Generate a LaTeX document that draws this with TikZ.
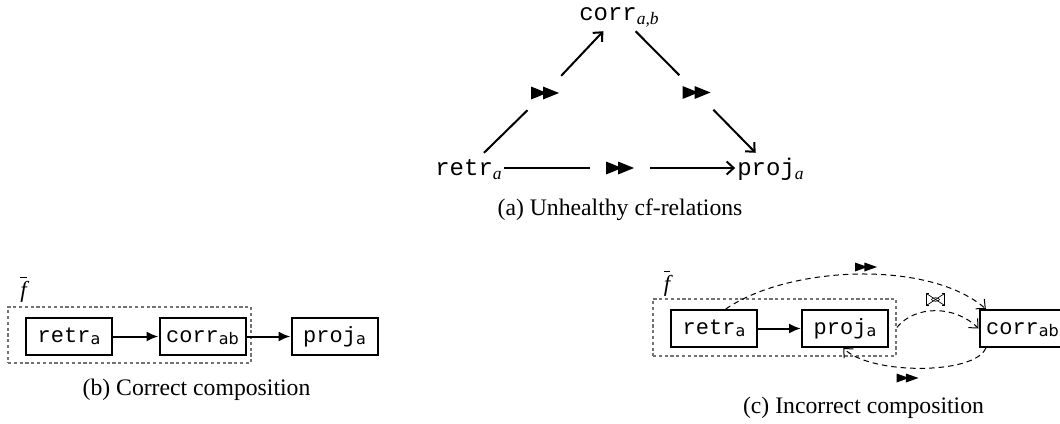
\documentclass[tikz,border=0pt]{standalone}
\usepackage{amsmath}
\usepackage{fontspec}
\setmainfont{Liberation Serif}
\setmonofont{Liberation Mono}
\newfontfamily\subsans{DejaVu Sans}
\usetikzlibrary{arrows.meta}

\newcommand\ffdraw[3]{%
  \fill ([shift={(-#2,-#3)}]#1.center) -- ([shift={(-#2,#3)}]#1.center) -- ([shift={(#2/7,0)}]#1.center) -- cycle;
  \fill ([shift={(-#2/7,-#3)}]#1.center) -- ([shift={(-#2/7,#3)}]#1.center) -- ([shift={(#2,0)}]#1.center) -- cycle;}
\newcommand\bsub[1]{\raisebox{-2.5pt}{\fontsize{16}{16}\selectfont\subsans #1}}
\newcommand\myit[1]{\textnormal{\itshape #1}}
\newcommand\asub[1]{\raisebox{-4.5pt}{\fontsize{17.5}{17.5}\selectfont\myit{#1}}}

\begin{document}
\begin{tikzpicture}[x=1pt,y=-1pt,
  lbl/.style={inner xsep=2pt, inner ysep=5pt, text height=17pt, text depth=3pt,
    font=\fontsize{24}{28}\selectfont\ttfamily, anchor=base},
  ffgap/.style={minimum width=60pt, minimum height=34pt, inner sep=0pt},
  arrA/.style={line width=2pt, -{Straight Barb[length=7pt,width=13pt]}},
  plain/.style={line width=2pt},
  boxn/.style={draw, line width=2pt, minimum width=86pt, minimum height=37pt,
    inner sep=0pt, text height=14pt, text depth=3pt,
    font=\fontsize{22}{26}\selectfont\ttfamily},
  grp/.style={draw=black!55, line width=1.6pt, dash pattern=on 3.2pt off 2.6pt,
    minimum width=243pt, minimum height=56pt, inner sep=0pt},
  solidarr/.style={line width=2pt, -{Latex[length=12pt,width=10pt]}},
  dasharr/.style={line width=1pt, dash pattern=on 5.5pt off 4pt,
    -{Straight Barb[length=7pt,width=13pt]}},
  capn/.style={font=\fontsize{23.7}{28}\selectfont, anchor=base, inner sep=0pt},
  fbar/.style={font=\fontsize{23}{26}\selectfont, anchor=base, inner sep=0pt},
  symn/.style={inner sep=0pt}
]
\useasboundingbox (0,0) rectangle (1060,423);

% ---------- (a) ----------
\node[lbl, text depth=6pt] (corr) at (619,20) {corr\asub{a,b}};
\node[lbl] (retr) at (468.5,175) {retr\asub{a}};
\node[lbl] (proj) at (770.5,175) {proj\asub{a}};
\node[ffgap] (ff1) at (545,93) {};
\node[ffgap] (ff2) at (696.5,92.5) {};
\node[ffgap] (ff3) at (620,168) {};
\draw[plain] (retr) -- (ff1);
\draw[arrA] (ff1) -- (corr);
\draw[plain] (corr) -- (ff2);
\draw[arrA] (ff2) -- (proj);
\draw[plain] (retr.east) -- (ff3.west);
\draw[arrA] (ff3.east) -- (proj.west);
\ffdraw{ff1}{14}{6.5}
\ffdraw{ff2}{14}{6.5}
\ffdraw{ff3}{14}{6.5}
\node[capn] (capa) at (620,215) {(a) Unhealthy cf-relations};

% ---------- (b) ----------
\node[grp] (grpb) at (129.5,335) {};
\node[fbar] (fb) at (23.5,297) {$\overline{\myit{f}}$};
\node[boxn] (retrb) at (69,336.5) {retr\bsub{a}};
\node[boxn] (corrb) at (202.5,336.5) {corr\bsub{ab}};
\node[boxn] (projb) at (334.5,336.5) {proj\bsub{a}};
\draw[solidarr] (retrb) -- (corrb);
\draw[solidarr] (corrb) -- (projb);
\node[capn] (capb) at (196.5,395) {(b) Correct composition};

% ---------- (c) ----------
\node[grp, minimum height=57pt] (grpc) at (774.5,327.5) {};
\node[fbar] (fc) at (667,291) {$\overline{\myit{f}}$};
\node[boxn] (retrc) at (714,328.5) {retr\bsub{a}};
\node[boxn] (projc) at (845,328.5) {proj\bsub{a}};
\node[boxn] (corrc) at (1022.5,328.5) {corr\bsub{ab}};
\draw[solidarr] (retrc) -- (projc);
\draw[dasharr] (retrc.59) .. controls (790,265) and (930,260) .. (corrc.152);
\draw[dasharr] (grpc.east) .. controls (915,305) and (955,305) .. (corrc.west);
\draw[dasharr] (corrc.208) .. controls (975,375) and (870,375) .. (projc.265);
\node[symn, minimum width=11pt, minimum height=9pt] (ffc1) at (866,267) {};
\node[symn, minimum width=11pt, minimum height=9pt] (ffc2) at (907.5,378) {};
\ffdraw{ffc1}{11}{4.5}
\ffdraw{ffc2}{11}{4.5}
\node[symn, minimum width=17pt, minimum height=11pt] (bowc) at (935.5,299.5) {};
\draw[line width=0.7pt] ([xshift=2pt]bowc.north west) -- (bowc.north west) -- (bowc.south west) -- ([xshift=2pt]bowc.south west);
\draw[line width=0.7pt] ([xshift=-2pt]bowc.north east) -- (bowc.north east) -- (bowc.south east) -- ([xshift=-2pt]bowc.south east);
\draw[line width=0.7pt] (bowc.north west) -- (bowc.south east);
\draw[line width=0.7pt] (bowc.south west) -- (bowc.north east);
\draw[line width=0.6pt] (bowc.center) ellipse [x radius=4pt, y radius=1.8pt];
\node[capn] (capc) at (863.5,413) {(c) Incorrect composition};
\end{tikzpicture}
\end{document}
